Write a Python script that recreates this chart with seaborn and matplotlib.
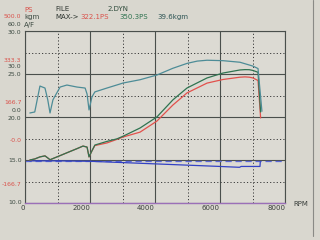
import matplotlib
matplotlib.use("Agg")
import matplotlib.pyplot as plt
import seaborn as sns
from matplotlib.ticker import FixedLocator
from matplotlib.lines import Line2D

sns.set_style("white")
plt.rcParams['font.family'] = ['DejaVu Sans']

# ---------------- data ----------------
rpm_torque = [150, 300, 460, 615, 700, 770, 860, 1080, 1290, 1600, 1850, 1910, 1970, 2060,
              2150, 2520, 2920, 3015, 3540, 4060, 4550, 4985, 5300, 5600, 6090, 6615, 7015, 7170, 7290]
torque_kgm = [2.8, 3.5, 21.6, 20.2, 12.0, 2.8, 12.0, 20.9, 22.3, 20.9, 20.2, 16.0, 4.9, 14.0,
              17.5, 20.2, 23.0, 23.7, 26.0, 29.3, 34.0, 37.4, 39.0, 39.6, 39.3, 38.2, 35.5, 33.8, 4.0]

rpm_power = [150, 300, 460, 615, 700, 770, 1080, 1290, 1600, 1785, 1910, 1970, 2060, 2150,
             2520, 2830, 3015, 3540, 4060, 4550, 4985, 5600, 6090, 6615, 6770, 6900, 7015, 7170, 7250]
power_ps = [0, 4, 12, 16, 8, 1, 17, 28, 44, 54, 50, 12, 35, 56,
            66, 80, 89, 108, 151, 213, 260, 298, 312, 321, 322.1, 321, 318, 308, 163]
power_corr_ps = [0, 4, 12, 16, 8, 1, 17, 28, 44, 54, 50, 12, 36, 58,
                 72, 82, 92, 124, 167, 233, 279, 318, 337, 349, 350.3, 350, 347, 340, 186]

rpm_afr = [150, 1000, 2000, 3000, 4000, 5000, 6000, 6600, 6650, 7230, 7240]
afr = [14.9, 14.9, 14.85, 14.7, 14.55, 14.4, 14.25, 14.15, 14.25, 14.25, 14.8]

rpm_target = [0, 8000]
afr_target = [14.9, 14.9]

x_ticks = [0, 2000, 4000, 6000, 8000]
x_tick_labels = ["0", "2000", "4000", "6000", "8000"]

# left scale labels: (text, colour key, y pixel)
left_labels = [("500.0", "ps", 17), ("60.0", "k", 24), ("30.0", "k", 32),
               ("333.3", "ps", 60), ("30.0", "k", 67), ("25.0", "k", 74),
               ("166.7", "ps", 103), ("0.0", "k", 111), ("20.0", "k", 118),
               ("-0.0", "ps", 141), ("15.0", "k", 160),
               ("-166.7", "ps", 185), ("10.0", "k", 203)]

# ---------------- figure ----------------
W, H = 320, 240
bg = "#d9d7cf"
fig = plt.figure(figsize=(3.2, 2.4), dpi=100, facecolor=bg)
ax = fig.add_axes([25 / W, 1 - 203 / H, 260 / W, 172 / H])
ax.set_facecolor("#dcdad3")

ax.set_xlim(0, 8000)
ax.set_ylim(10, 30)
ax.xaxis.set_major_locator(FixedLocator(x_ticks))
ax.xaxis.set_minor_locator(FixedLocator([1000, 3000, 5000, 7000]))
ax.yaxis.set_major_locator(FixedLocator([10, 15, 20, 25, 30]))
ax.yaxis.set_minor_locator(FixedLocator([12.5, 17.5, 22.5, 27.5]))
ax.grid(which="major", color="#4a4f4c", linestyle="-", linewidth=0.8)
ax.grid(which="minor", color="#3a3a3a", linestyle=(0, (1.2, 2.2)), linewidth=0.7)
ax.tick_params(which="both", length=0)
ax.set_yticklabels([])
ax.set_xticklabels(x_tick_labels, fontsize=5, color="#3a3f3c", ha="right")
ax.tick_params(axis="x", pad=1.5)
for s in ["top", "right", "left"]:
    ax.spines[s].set_color("#4a4f4c")
    ax.spines[s].set_linewidth(0.8)
ax.spines["bottom"].set_color("#9b6fb8")
ax.spines["bottom"].set_linewidth(1.0)
ax.set_axisbelow(True)

ax_ps = ax.twinx()
ax_ps.set_ylim(-166.7, 500)
ax_ps.axis("off")
ax_kg = ax.twinx()
ax_kg.set_ylim(-60, 60)
ax_kg.axis("off")

# A/F lines
sns.lineplot(x=rpm_target, y=afr_target, ax=ax, color="#5a66d6", linewidth=0.9,
             linestyle=(0, (5, 3)), estimator=None)
sns.lineplot(x=rpm_afr, y=afr, ax=ax, color="#3442c4", linewidth=0.9, estimator=None)

# power
sns.lineplot(x=rpm_power, y=power_ps, ax=ax_ps, color="#e2514c", linewidth=0.9, estimator=None)
sns.lineplot(x=rpm_power, y=power_corr_ps, ax=ax_ps, color="#2f7350", linewidth=0.9, estimator=None)

# torque
sns.lineplot(x=rpm_torque, y=torque_kgm, ax=ax_kg, color="#4d8c97", linewidth=0.9, estimator=None)

for a in (ax, ax_ps, ax_kg):
    a.set_xlabel("")
    a.set_ylabel("")
    if a.get_legend():
        a.get_legend().remove()

# ---------------- texts ----------------
fs = 5
red = "#d9534c"
dark = "#3d4a42"

def px(x, y):
    return x / W, 1 - y / H

for txt, key, ypx in left_labels:
    fig.text(*px(21.5, ypx), txt, ha="right", va="center", fontsize=4.4,
             color=red if key == "ps" else dark)

fig.text(*px(24, 10), "PS", ha="left", va="center", fontsize=fs, color=red)
fig.text(*px(24, 17), "kgm", ha="left", va="center", fontsize=fs, color=dark)
fig.text(*px(24, 25), "A/F", ha="left", va="center", fontsize=fs, color=dark)
fig.text(*px(55, 9), "FILE", ha="left", va="center", fontsize=fs, color="#2e3530")
fig.text(*px(108, 9), "2.DYN", ha="left", va="center", fontsize=fs, color="#2e4a3a")
fig.text(*px(55, 17), "MAX->", ha="left", va="center", fontsize=fs, color="#2e3530")
fig.text(*px(80, 17), "322.1PS", ha="left", va="center", fontsize=fs, color=red)
fig.text(*px(119, 17), "350.3PS", ha="left", va="center", fontsize=fs, color="#2f7350")
fig.text(*px(157, 17), "39.6kgm", ha="left", va="center", fontsize=fs, color="#2d5454")
fig.text(*px(293, 204), "RPM", ha="left", va="center", fontsize=fs, color="#3a3f3c")

# paper edge
fig.add_artist(Line2D([313 / W, 313 / W], [1 - 236 / H, 1.0], transform=fig.transFigure,
                      color="#8a8a86", linewidth=0.8))

fig.savefig("out.png", dpi=100, facecolor=bg)
